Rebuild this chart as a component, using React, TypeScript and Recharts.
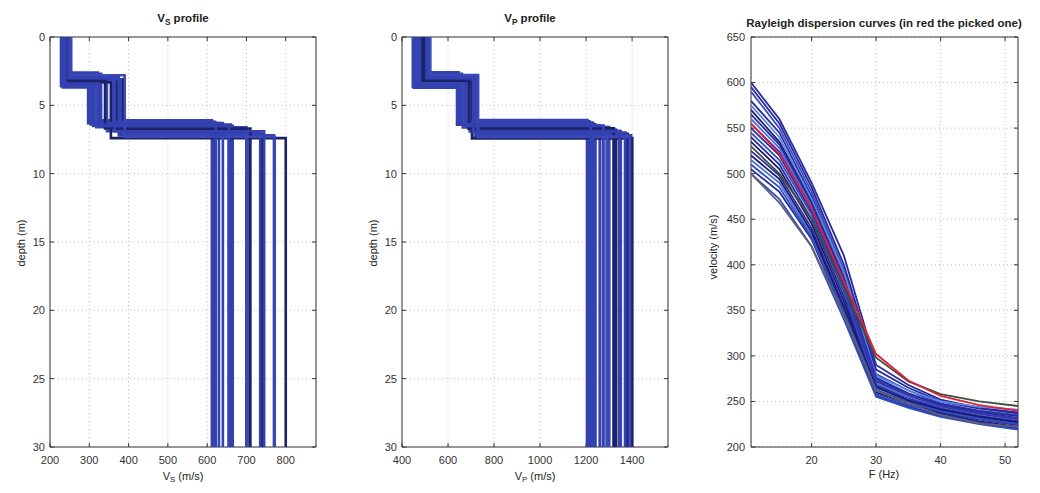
import React from 'react';
import { ScatterChart, Scatter, XAxis, YAxis, CartesianGrid } from 'recharts';

// ---- layered models (shared interface depths, m) ----
const interface1Depth = [2.6, 2.7, 3.1, 3.5, 3.3, 3.6, 3.0, 3.4, 3.2, 3.7, 2.9, 3.3, 3.5, 3.1, 3.6, 3.2, 3.4, 2.8, 3.5, 3.0];
const interface2Depth = [6.1, 6.2, 7.1, 6.3, 6.6, 6.4, 6.8, 6.5, 6.9, 6.2, 7.2, 7.4, 6.6, 7.0, 6.3, 6.7, 6.5, 7.3, 6.4, 6.9];
const maxDepth = 30;

// Vs (m/s)
const vsLayer1 = [235, 240, 245, 230, 250, 228, 252, 238, 246, 233, 248, 242, 236, 250, 231, 244, 239, 254, 234, 247];
const vsLayer2 = [322, 330, 386, 300, 360, 305, 370, 310, 345, 298, 375, 355, 318, 380, 297, 340, 326, 390, 312, 365];
const vsHalfspace = [612, 620, 740, 630, 655, 660, 700, 665, 707, 615, 770, 800, 700, 735, 640, 710, 655, 772, 622, 745];

// Vp (m/s)
const vpLayer1 = [455, 470, 515, 460, 500, 448, 520, 480, 505, 452, 510, 495, 465, 518, 450, 490, 475, 522, 458, 508];
const vpLayer2 = [645, 660, 725, 650, 700, 640, 715, 670, 695, 642, 720, 705, 665, 728, 645, 690, 680, 730, 655, 710];
const vpHalfspace = [1205, 1215, 1380, 1225, 1300, 1240, 1330, 1260, 1350, 1210, 1395, 1400, 1290, 1370, 1230, 1320, 1275, 1390, 1220, 1345];

const profileColors = ['#3441b0', '#3441b0', '#1c2266', '#3441b0', '#3a48b8', '#3441b0', '#1c2266', '#3441b0', '#3a48b8', '#3441b0',
  '#3441b0', '#1c2266', '#3a48b8', '#3441b0', '#3441b0', '#1c2266', '#3441b0', '#3a48b8', '#3441b0', '#3441b0'];

// ---- dispersion curves ----
const frequencies = [10.6, 15, 20, 25, 30, 35, 40, 46, 52];
const dispersionCurves = [
  [600, 560, 490, 410, 290, 268, 252, 243, 238],
  [590, 550, 480, 395, 280, 262, 248, 240, 235],
  [580, 545, 475, 390, 275, 258, 246, 238, 232],
  [570, 535, 470, 385, 272, 256, 244, 236, 230],
  [560, 528, 465, 380, 270, 255, 243, 235, 229],
  [550, 520, 458, 375, 268, 253, 242, 234, 228],
  [545, 515, 455, 370, 265, 252, 240, 232, 226],
  [540, 510, 450, 365, 262, 250, 238, 230, 224],
  [535, 505, 445, 360, 260, 248, 237, 228, 222],
  [525, 498, 440, 355, 258, 246, 236, 227, 221],
  [515, 490, 432, 350, 257, 245, 235, 226, 220],
  [505, 480, 428, 345, 256, 244, 234, 226, 220],
  [500, 472, 420, 340, 255, 243, 233, 225, 219],
  [595, 555, 485, 400, 285, 265, 250, 242, 237],
  [575, 540, 472, 392, 278, 262, 250, 244, 241],
  [565, 532, 468, 384, 276, 259, 247, 239, 234],
  [555, 524, 462, 378, 273, 257, 245, 237, 231],
  [520, 494, 436, 352, 266, 251, 241, 233, 227],
  [510, 485, 430, 348, 263, 249, 239, 231, 225],
  [530, 500, 450, 375, 298, 272, 258, 250, 245],
  [500, 468, 420, 345, 262, 248, 235, 226, 222],
];
const dispersionColors = ['#2a2aa0', '#3050c0', '#2a2aa0', '#1a1a70', '#4a70d8', '#2a2aa0', '#3050c0', '#2a2aa0', '#1a1a70',
  '#2a2aa0', '#4a70d8', '#2a2aa0', '#3050c0', '#2a2aa0', '#5a86e0', '#2a2aa0', '#3a3ab0', '#1a1a70', '#3050c0', '#405040', '#606070'];
const pickedCurve = [555, 522, 462, 382, 302, 273, 256, 246, 240];

const FONT = '"Liberation Sans", Arial, Helvetica, sans-serif';
const AXIS_W = 50;
const RIGHT_W = 10;
const TOP_H = 37;
const BOTTOM_H = 46;
const H = 493;

type Pt = { x: number; y: number };
type Series = { points: Pt[]; color: string; width: number };

function stepProfile(v1: number, v2: number, v3: number, d1: number, d2: number): Pt[] {
  return [
    { x: v1, y: 0 }, { x: v1, y: d1 },
    { x: v2, y: d1 }, { x: v2, y: d2 },
    { x: v3, y: d2 }, { x: v3, y: maxDepth },
  ];
}

const vsSeries: Series[] = vsLayer1.map((v, i) => ({
  points: stepProfile(v, vsLayer2[i], vsHalfspace[i], interface1Depth[i], interface2Depth[i]),
  color: profileColors[i], width: 2.6,
}));
const vpSeries: Series[] = vpLayer1.map((v, i) => ({
  points: stepProfile(v, vpLayer2[i], vpHalfspace[i], interface1Depth[i], interface2Depth[i]),
  color: profileColors[i], width: 3,
}));
const dispSeries: Series[] = [
  ...dispersionCurves.map((c, i) => ({
    points: c.map((v, j) => ({ x: frequencies[j], y: v })),
    color: dispersionColors[i], width: 1.8,
  })),
  { points: pickedCurve.map((v, j) => ({ x: frequencies[j], y: v })), color: '#e0203a', width: 1.8 },
];

const noShape = () => <g />;
const blank = () => '';

type PanelProps = {
  left: number; plotWidth: number;
  xDomain: number[]; xTicks: number[];
  yDomain: number[]; yTicks: number[];
  reversed?: boolean; yTickMargin: number;
  series: Series[];
};

function Panel({ left, plotWidth, xDomain, xTicks, yDomain, yTicks, reversed, yTickMargin, series }: PanelProps) {
  const tick = { fill: '#333', fontSize: 11, fontFamily: FONT };
  const axisLine = { stroke: '#333' };
  const tickLine = { stroke: '#333' };
  return (
    <div style={{ position: 'absolute', left: left - AXIS_W, top: 0 }}>
      <ScatterChart width={AXIS_W + plotWidth + RIGHT_W} height={H} margin={{ top: 0, right: 0, bottom: 0, left: 0 }}>
        <CartesianGrid stroke="#c0c0c0" strokeDasharray="1 3" />
        <XAxis type="number" dataKey="x" domain={xDomain} ticks={xTicks} allowDataOverflow interval={0}
          height={BOTTOM_H} tick={tick} axisLine={axisLine} tickLine={tickLine} tickSize={-4} tickMargin={13} />
        <XAxis xAxisId="top" orientation="top" type="number" dataKey="x" domain={xDomain} ticks={xTicks} allowDataOverflow
          interval={0} height={TOP_H} tickFormatter={blank} axisLine={axisLine} tickLine={tickLine} tickSize={-4} />
        <YAxis type="number" dataKey="y" domain={yDomain} ticks={yTicks} reversed={reversed} allowDataOverflow interval={0}
          width={AXIS_W} tick={tick} axisLine={axisLine} tickLine={tickLine} tickSize={-4} tickMargin={yTickMargin} />
        <YAxis yAxisId="right" orientation="right" type="number" dataKey="y" domain={yDomain} ticks={yTicks}
          reversed={reversed} allowDataOverflow interval={0} width={RIGHT_W} tickFormatter={blank}
          axisLine={axisLine} tickLine={tickLine} tickSize={-4} />
        {series.map((s, i) => (
          <Scatter key={i} data={s.points} fill={s.color} line={{ stroke: s.color, strokeWidth: s.width }}
            shape={noShape} isAnimationActive={false} legendType="none" />
        ))}
      </ScatterChart>
    </div>
  );
}

const txt: React.CSSProperties = { position: 'absolute', fontFamily: FONT, color: '#222', whiteSpace: 'nowrap', lineHeight: 1 };
const subStyle: React.CSSProperties = { fontSize: '0.72em', verticalAlign: '-0.35em', lineHeight: 0 };

function Centered({ cx, cy, size, bold, rotate, children }: { cx: number; cy: number; size: number; bold?: boolean; rotate?: boolean; children: React.ReactNode }) {
  return (
    <div style={{
      ...txt, left: cx, top: cy, fontSize: size, fontWeight: bold ? 'bold' : 'normal',
      transform: `translate(-50%, -50%)${rotate ? ' rotate(-90deg)' : ''}`,
    }}>{children}</div>
  );
}

export default function App() {
  return (
    <div style={{ position: 'absolute', left: 0, top: 0, width: 1040, height: H, background: '#fff', overflow: 'hidden' }}>
      <Panel left={50} plotWidth={266} xDomain={[200, 877]} xTicks={[200, 300, 400, 500, 600, 700, 800]}
        yDomain={[0, 30]} yTicks={[0, 5, 10, 15, 20, 25, 30]} reversed yTickMargin={9} series={vsSeries} />
      <Panel left={402} plotWidth={266} xDomain={[400, 1556]} xTicks={[400, 600, 800, 1000, 1200, 1400]}
        yDomain={[0, 30]} yTicks={[0, 5, 10, 15, 20, 25, 30]} reversed yTickMargin={9} series={vpSeries} />
      <Panel left={751} plotWidth={267} xDomain={[10.6, 52]} xTicks={[20, 30, 40, 50]}
        yDomain={[200, 650]} yTicks={[200, 250, 300, 350, 400, 450, 500, 550, 600, 650]} yTickMargin={10} series={dispSeries} />

      <Centered cx={183} cy={19} size={11.5} bold>V<span style={subStyle}>S</span> profile</Centered>
      <Centered cx={530} cy={19} size={11.5} bold>V<span style={subStyle}>P</span> profile</Centered>
      <Centered cx={884} cy={24} size={11.5} bold>Rayleigh dispersion curves (in red the picked one)</Centered>

      <Centered cx={183} cy={476} size={11}>V<span style={subStyle}>S</span> (m/s)</Centered>
      <Centered cx={535} cy={476} size={11}>V<span style={subStyle}>P</span> (m/s)</Centered>
      <Centered cx={884} cy={474} size={11}>F (Hz)</Centered>

      <Centered cx={21} cy={243} size={11} rotate>depth (m)</Centered>
      <Centered cx={373} cy={243} size={11} rotate>depth (m)</Centered>
      <Centered cx={713} cy={247} size={11} rotate>velocity (m/s)</Centered>
    </div>
  );
}
